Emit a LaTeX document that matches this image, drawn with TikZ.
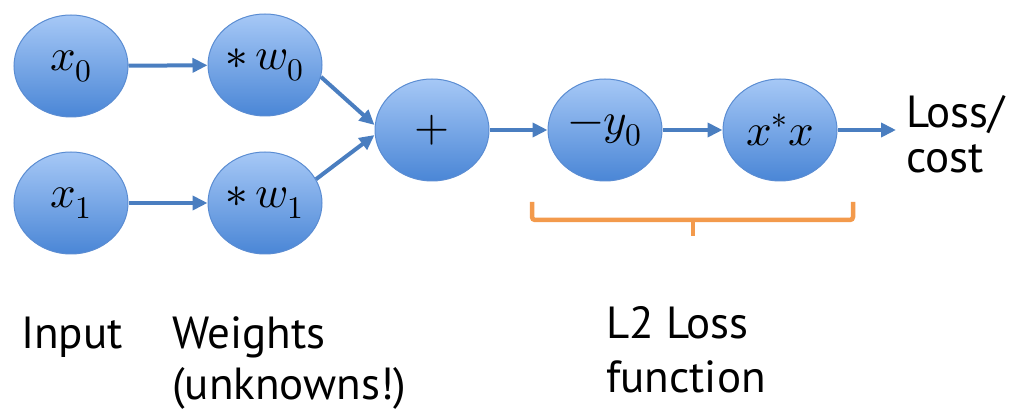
\documentclass[tikz,border=0pt]{standalone}
\usepackage{fontspec}
\usepackage{unicode-math}
\setmainfont{PT Sans}
\setmathfont{Latin Modern Math}
\usetikzlibrary{arrows.meta,shapes.geometric}
\definecolor{nodetop}{HTML}{A6C8F6}
\definecolor{nodebot}{HTML}{4A86D6}
\definecolor{nodeline}{HTML}{5A8CD2}
\definecolor{wirecol}{HTML}{4A7EC0}
\definecolor{bracecol}{HTML}{F39A4C}
\begin{document}
\begin{tikzpicture}[x=1pt,y=-1pt,
  op/.style={ellipse, minimum width=114pt, minimum height=102pt, inner sep=0pt,
    top color=nodetop, bottom color=nodebot, draw=nodeline, line width=1pt,
    font=\fontsize{45}{48}\selectfont},
  wire/.style={draw=wirecol, line width=4pt, -{Triangle[length=15pt,width=14pt]}},
  lbl/.style={font=\fontsize{45}{50}\selectfont, anchor=base west, inner sep=0pt},
  bracket/.style={draw=bracecol, line width=4.5pt}]
\useasboundingbox (0,0) rectangle (1024,411);

% computation graph nodes
\node[op] (x0)   at (71,66)   {$x_0$};
\node[op] (x1)   at (71,203)  {$x_1$};
\node[op] (w0)   at (265,65)  {$*\,w_0$};
\node[op] (w1)   at (265,203) {$*\,w_1$};
\node[op] (plus) at (432,130) {$+$};
\node[op] (sub)  at (605,130) {$-y_0$};
\node[op] (sq)   at (780,130) {$x^*x$};
\coordinate (out) at (896,130);

% connectors
\draw[wire] (x0) -- (w0);
\draw[wire] (x1) -- (w1);
\draw[wire] (w0.-12) -- ([yshift=5pt]plus.west);
\draw[wire] (w1.25) -- ([yshift=-5pt]plus.west);
\draw[wire] (plus) -- (sub);
\draw[wire] (sub) -- (sq);
\draw[wire] (sq) -- (out);

% output label
\node[lbl] (loss1) at (906,128) {Loss/};
\node[lbl] (loss2) at (906,173) {cost};

% bracket under the L2 loss stages
\draw[bracket, rounded corners=3pt] (532,202) -- (532,220) -- (853,220) -- (853,202);
\draw[bracket] (693,219) -- (693,236);

% captions
\node[lbl] (inp)  at (21,348)  {Input};
\node[lbl] (wts1) at (172,348) {Weights};
\node[lbl] (wts2) at (172,399) {(unknowns!)};
\node[lbl] (l2a)  at (606,338) {L2 Loss};
\node[lbl] (l2b)  at (606,392) {function};
\end{tikzpicture}
\end{document}
